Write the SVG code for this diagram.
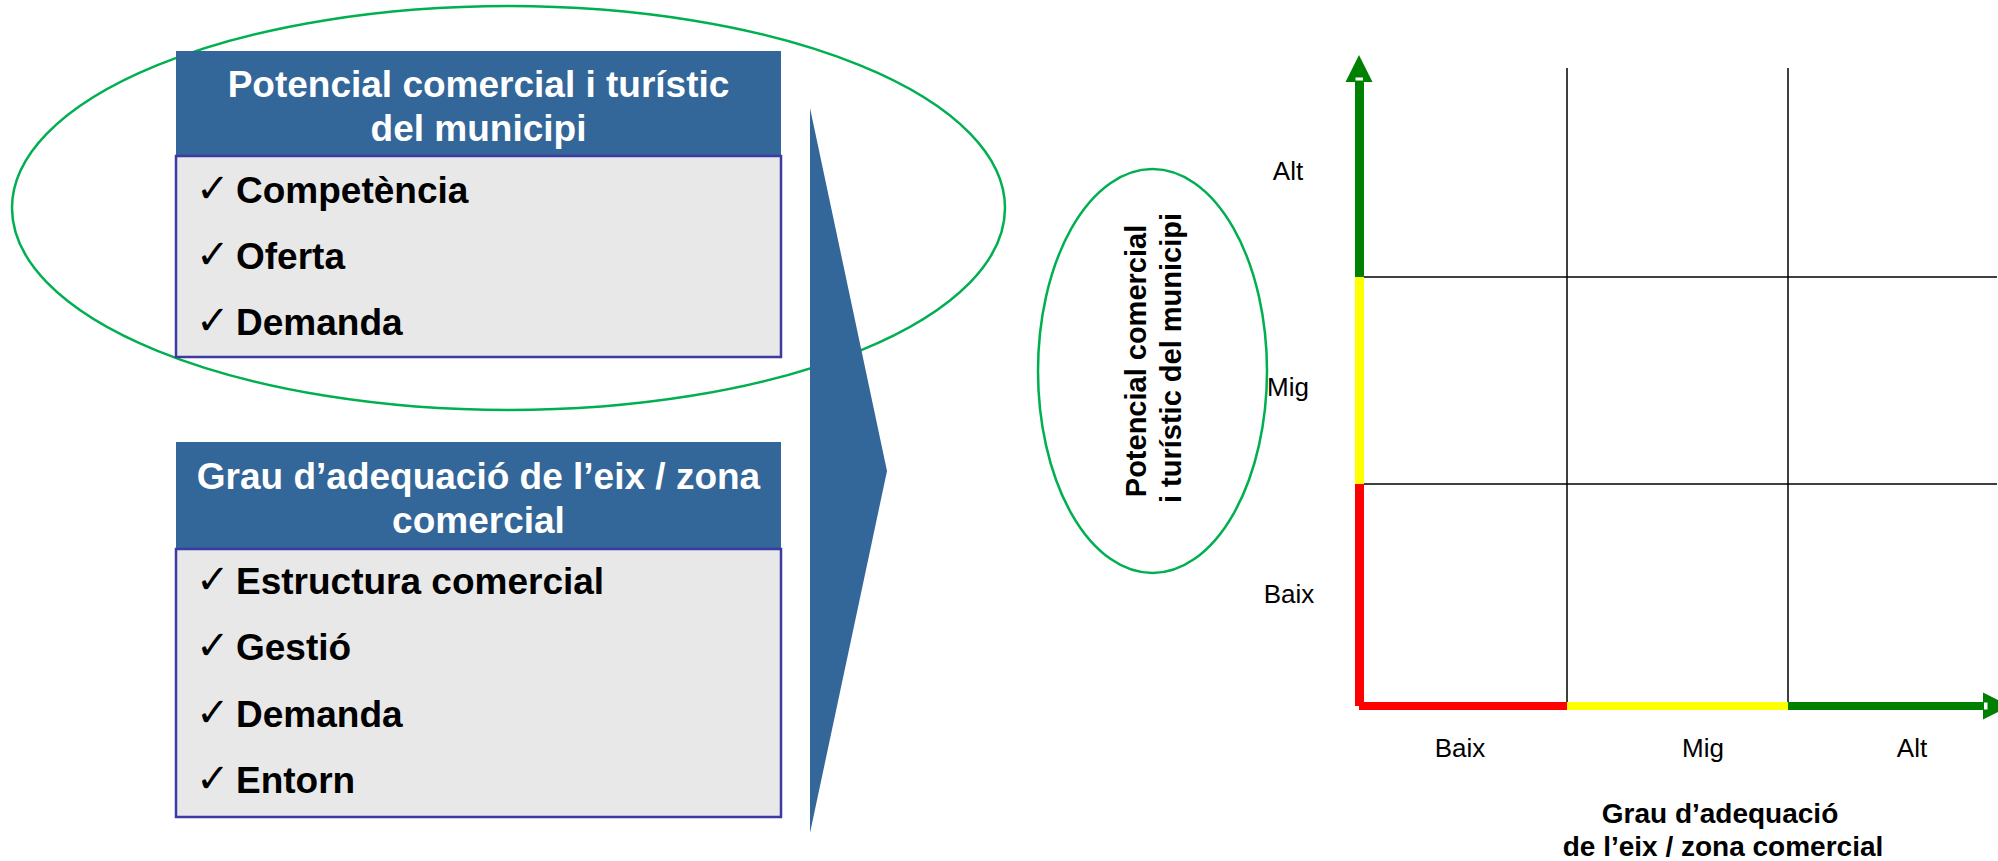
<svg xmlns="http://www.w3.org/2000/svg" width="1998" height="861" viewBox="0 0 1998 861">
  <defs>
    <style>
      .hdr { fill: #336699; }
      .body { fill: #E8E8E8; stroke: #3B3BA3; stroke-width: 2.5; }
      .hdrtxt { font-family: "Liberation Sans", Arial, sans-serif; font-weight: bold; font-size: 37px; fill: #FFFFFF; text-anchor: middle; }
      .item { font-family: "Liberation Sans", Arial, sans-serif; font-weight: bold; font-size: 37px; fill: #000000; }
      .chk { font-family: "DejaVu Sans", sans-serif; font-size: 40px; fill: #000000; }
      .ring { fill: none; stroke: #00B050; stroke-width: 2.5; }
      .grid { stroke: #000000; stroke-width: 1.5; fill: none; }
      .lvl { font-family: "Liberation Sans", Arial, sans-serif; font-size: 26px; fill: #000000; text-anchor: middle; }
      .axttl { font-family: "Liberation Sans", Arial, sans-serif; font-weight: bold; font-size: 29px; fill: #000000; text-anchor: middle; }
      .xttl { font-family: "Liberation Sans", Arial, sans-serif; font-weight: bold; font-size: 28px; fill: #000000; text-anchor: middle; }
    </style>
  </defs>

  <rect width="1998" height="861" fill="#FFFFFF"/>

  <!-- highlight ring around the first factor block -->
  <ellipse id="ring-potencial" class="ring" cx="508.5" cy="208" rx="496.5" ry="202"/>

  <!-- factor block: potencial comercial i turístic -->
  <g id="node-potencial">
    <rect class="hdr" x="176" y="51" width="605" height="105"/>
    <text class="hdrtxt" x="478.5" y="97">Potencial comercial i turístic</text>
    <text class="hdrtxt" x="478.5" y="141">del municipi</text>
    <rect class="body" x="176" y="156" width="605" height="201"/>
    <text class="chk" x="196" y="202">✓</text><text class="item" x="236" y="203">Competència</text>
    <text class="chk" x="196" y="268">✓</text><text class="item" x="236" y="269">Oferta</text>
    <text class="chk" x="196" y="334">✓</text><text class="item" x="236" y="335">Demanda</text>
  </g>

  <!-- factor block: grau d'adequació -->
  <g id="node-adequacio">
    <rect class="hdr" x="176" y="442" width="605" height="107"/>
    <text class="hdrtxt" x="478.5" y="489">Grau d’adequació de l’eix / zona</text>
    <text class="hdrtxt" x="478.5" y="533">comercial</text>
    <rect class="body" x="176" y="549" width="605" height="268"/>
    <text class="chk" x="196" y="593">✓</text><text class="item" x="236" y="594">Estructura comercial</text>
    <text class="chk" x="196" y="659">✓</text><text class="item" x="236" y="660">Gestió</text>
    <text class="chk" x="196" y="726">✓</text><text class="item" x="236" y="727">Demanda</text>
    <text class="chk" x="196" y="792">✓</text><text class="item" x="236" y="793">Entorn</text>
  </g>

  <!-- chevron leading into the matrix -->
  <g id="node-chevron">
    <polygon points="810,108 887,471 810,833" fill="#336699"/>
  </g>

  <!-- y-axis title -->
  <g id="node-ytitle">
    <ellipse class="ring" cx="1152.5" cy="371" rx="114.5" ry="202"/>
    <text class="axttl" transform="translate(1146,361) rotate(-90)" x="0" y="0">Potencial comercial</text>
    <text class="axttl" transform="translate(1181,358) rotate(-90)" x="0" y="0">i turístic del municipi</text>
  </g>

  <!-- matrix grid and coloured axes -->
  <g id="connectors">
    <line class="grid" x1="1567" y1="68" x2="1567" y2="706"/>
    <line class="grid" x1="1788" y1="68" x2="1788" y2="706"/>
    <line class="grid" x1="1359" y1="277" x2="1997" y2="277"/>
    <line class="grid" x1="1359" y1="484" x2="1997" y2="484"/>

    <!-- vertical axis -->
    <rect x="1355" y="484" width="9" height="222" fill="#FF0000"/>
    <rect x="1355" y="277" width="9" height="207" fill="#FFFF00"/>
    <rect x="1355" y="80" width="9" height="197" fill="#008000"/>
    <polygon points="1359,55 1372.5,82 1345.5,82" fill="#008000"/>
    <rect x="1355.5" y="77.5" width="7.5" height="3" fill="#FFFFFF"/>

    <!-- horizontal axis -->
    <rect x="1359" y="702" width="208" height="8" fill="#FF0000"/>
    <rect x="1567" y="702" width="221" height="8" fill="#FFFF00"/>
    <rect x="1788" y="702" width="197" height="8" fill="#008000"/>
    <polygon points="2010,706 1983,692.5 1983,719.5" fill="#008000"/>
    <rect x="1984" y="702.5" width="3.5" height="7" fill="#FFFFFF"/>
  </g>

  <!-- level labels -->
  <g id="node-labels">
    <text class="lvl" x="1288" y="180">Alt</text>
    <text class="lvl" x="1288" y="396">Mig</text>
    <text class="lvl" x="1289" y="603">Baix</text>
    <text class="lvl" x="1460" y="757">Baix</text>
    <text class="lvl" x="1703" y="757">Mig</text>
    <text class="lvl" x="1912" y="757">Alt</text>
  </g>

  <!-- x-axis title -->
  <g id="node-xtitle">
    <text class="xttl" x="1720" y="823">Grau d’adequació</text>
    <text class="xttl" x="1723" y="856">de l’eix / zona comercial</text>
  </g>
</svg>
